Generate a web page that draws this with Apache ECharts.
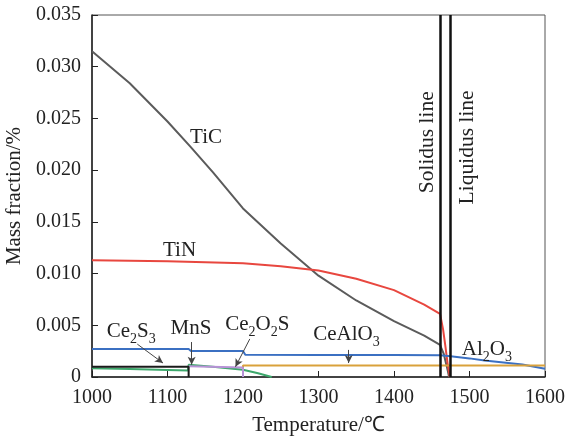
<!DOCTYPE html>
<html>
<head>
<meta charset="utf-8">
<script src="https://cdn.jsdelivr.net/npm/echarts@6/dist/echarts.min.js"></script>
<style>
  html, body { margin: 0; padding: 0; background: #fff; }
  #chart { width: 569px; height: 436px; }
</style>
</head>
<body>
<div id="chart"></div>
<script>
// Precipitated phases vs temperature (mass fraction, %)
const xTicks = [1000, 1100, 1200, 1300, 1400, 1500, 1600];
const yTicks = [0, 0.005, 0.010, 0.015, 0.020, 0.025, 0.030, 0.035];

const tiC = [[1000, 0.0315], [1050, 0.0284], [1100, 0.0247], [1130, 0.0223], [1160, 0.0198],
  [1200, 0.0163], [1250, 0.0129], [1300, 0.0098], [1350, 0.0074], [1400, 0.0054],
  [1440, 0.0040], [1461, 0.0031], [1466, 0.0022], [1470, 0.0010], [1473, 0]];
const tiN = [[1000, 0.0113], [1100, 0.0112], [1200, 0.0110], [1250, 0.0107], [1300, 0.0103],
  [1350, 0.0095], [1400, 0.0084], [1440, 0.0070], [1461, 0.0061], [1465, 0.0046],
  [1468, 0.0030], [1471, 0.0013], [1474, 0]];
const alOxide = [[1000, 0.0027], [1128, 0.0027], [1131, 0.00252], [1200, 0.00252], [1203, 0.00215],
  [1300, 0.00213], [1400, 0.00212], [1461, 0.0021], [1475, 0.0020], [1500, 0.0018],
  [1520, 0.0016], [1570, 0.0012], [1600, 0.0008]];
const ceAlO3 = [[1200, 0], [1200, 0.00112], [1600, 0.00112]];
const ce2S3 = [[1000, 0.0010], [1128, 0.0010], [1128, 0]];
const mnS = [[1000, 0.00085], [1050, 0.00078], [1100, 0.00068], [1127, 0.00062], [1128, 0.00118],
  [1160, 0.00098], [1200, 0.00070], [1220, 0.00036], [1238, 0]];
const ce2O2S = [[1128, 0.00105], [1200, 0.00092], [1200, 0]];

const solidusT = 1461;
const liquidusT = 1475;

// Annotation text anchors and leader arrows, in data units
const phaseLabels = [
  { at: [1151, 0.0229], text: '{n|TiC}' },
  { at: [1116, 0.0120], text: '{n|TiN}' },
  { at: [1052, 0.00420], text: '{n|Ce}{s|2}{n|S}{s|3}' },
  { at: [1131, 0.00445], text: '{n|MnS}' },
  { at: [1219, 0.00487], text: '{n|Ce}{s|2}{n|O}{s|2}{n|S}' },
  { at: [1337, 0.00391], text: '{n|CeAlO}{s|3}' },
  { at: [1523, 0.00245], text: '{n|Al}{s|2}{n|O}{s|3}' }
];
const leaders = [
  [[1060, 0.00318], [1094, 0.00135]],
  [[1132, 0.00338], [1132, 0.00118]],
  [[1209, 0.00368], [1190, 0.00098]],
  [[1340, 0.00262], [1340, 0.00135]]
];

const FONT = '"Liberation Serif", "Times New Roman", serif';
const chart = echarts.init(document.getElementById('chart'));

function lineSeries(data, color, width) {
  return {
    type: 'line', data: data, showSymbol: false, symbol: 'none',
    lineStyle: { color: color, width: width || 2 }, silent: true, z: 3
  };
}

const series = [
  lineSeries(tiC, '#5b5b5b'),
  lineSeries(tiN, '#e8473f'),
  lineSeries(alOxide, '#3b70c2'),
  lineSeries(ceAlO3, '#d9a13b'),
  lineSeries(mnS, '#3da86c'),
  lineSeries(ce2O2S, '#b792d6'),
  lineSeries(ce2S3, '#1a1a1a'),
  {
    type: 'line', data: [], silent: true,
    markLine: {
      silent: true, symbol: 'none', label: { show: false },
      lineStyle: { color: '#111', width: 2.5, type: 'solid' },
      data: [{ xAxis: solidusT }, { xAxis: liquidusT }]
    }
  },
  {
    type: 'line', data: [], silent: true,
    markLine: {
      silent: true, symbol: ['none', 'arrow'], symbolSize: [6, 8],
      label: { show: false },
      lineStyle: { color: '#444', width: 1, type: 'solid' },
      data: leaders.map(p => [{ coord: p[0] }, { coord: p[1] }])
    }
  }
];

chart.setOption({
  animation: false,
  grid: {
    left: 92, right: 24, top: 15, bottom: 59, containLabel: false, outerBoundsMode: 'none',
    show: true, borderColor: '#555', borderWidth: 1
  },
  xAxis: {
    type: 'value', min: xTicks[0], max: xTicks[xTicks.length - 1], interval: 100,
    name: 'Temperature/℃', nameLocation: 'middle', nameGap: 38,
    nameTextStyle: { fontFamily: FONT, fontSize: 21, color: '#222' },
    axisLine: { show: true, lineStyle: { color: '#222', width: 1.5 } },
    axisTick: { show: true, inside: true, length: 6, lineStyle: { color: '#222' } },
    axisLabel: { fontFamily: FONT, fontSize: 20, color: '#222', margin: 11, formatter: v => String(v) },
    splitLine: { show: false }
  },
  yAxis: {
    type: 'value', min: yTicks[0], max: yTicks[yTicks.length - 1], interval: 0.005,
    name: 'Mass fraction/%', nameLocation: 'middle', nameGap: 62, nameRotate: 90,
    nameTextStyle: { fontFamily: FONT, fontSize: 21, color: '#222' },
    axisLine: { show: true, lineStyle: { color: '#222', width: 1.5 } },
    axisTick: { show: true, inside: true, length: 6, lineStyle: { color: '#222' } },
    axisLabel: {
      fontFamily: FONT, fontSize: 20, color: '#222', margin: 11,
      formatter: v => (v === 0 ? '0' : v.toFixed(3))
    },
    splitLine: { show: false }
  },
  series: series
});

// Text annotations placed through the axes' own scales
const rich = {
  n: { fontFamily: FONT, fontSize: 21, color: '#222', padding: [0, 0, 5, 0], verticalAlign: 'top' },
  s: { fontFamily: FONT, fontSize: 14, color: '#222', verticalAlign: 'bottom' }
};
const graphics = phaseLabels.map(l => {
  const p = chart.convertToPixel({ gridIndex: 0 }, l.at);
  return {
    type: 'text', x: p[0], y: p[1], silent: true, z: 10,
    style: { text: l.text, fill: '#222', align: 'center', verticalAlign: 'middle', rich: rich }
  };
});
[[solidusT - 17, 0.0227, 'Solidus line'], [liquidusT + 22, 0.0222, 'Liquidus line']].forEach(r => {
  const p = chart.convertToPixel({ gridIndex: 0 }, [r[0], r[1]]);
  graphics.push({
    type: 'text', x: p[0], y: p[1], rotation: Math.PI / 2, silent: true, z: 10,
    style: { text: r[2], fontFamily: FONT, fontSize: 21.5, fill: '#222', align: 'center', verticalAlign: 'middle' }
  });
});
chart.setOption({ graphic: graphics });
</script>
</body>
</html>
